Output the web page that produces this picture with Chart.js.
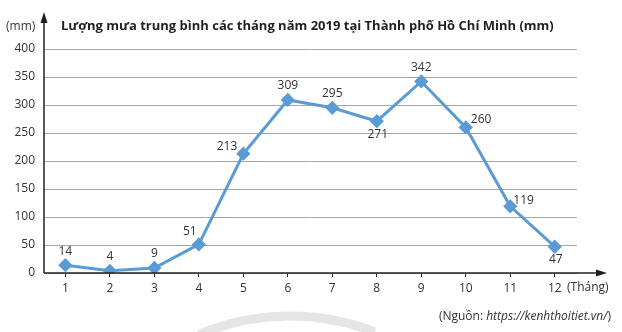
<!DOCTYPE html>
<html>
<head>
<meta charset="utf-8">
<script src="https://cdn.jsdelivr.net/npm/chart.js@4/dist/chart.umd.min.js"></script>
<style>
  html, body { margin: 0; padding: 0; background: #fff; }
  #wrap { width: 622px; height: 332px; position: relative; }
</style>
</head>
<body>
<div id="wrap"><canvas id="rainChart"></canvas></div>
<script>
const months = [1, 2, 3, 4, 5, 6, 7, 8, 9, 10, 11, 12];
const rainfall = [14, 4, 9, 51, 213, 309, 295, 271, 342, 260, 119, 47];
const yTicks = [0, 50, 100, 150, 200, 250, 300, 350, 400];

const titleText = 'Lượng mưa trung bình các tháng năm 2019 tại Thành phố Hồ Chí Minh (mm)';
const yUnit = '(mm)';
const xUnit = '(Tháng)';

const ink = '#231f20';
const textGrey = '#333333';
const lineBlue = '#5b9bd5';

// where each value label sits relative to its point
const labelSides = ['top', 'top', 'top', 'topLeft', 'left', 'top', 'top', 'bottom', 'top', 'right', 'rightTight', 'bottom'];
const sideOffsets = {
  top:        { dx: 0,  dy: -14, align: 'center' },
  bottom:     { dx: 1,  dy: 13,  align: 'center' },
  topLeft:    { dx: -9, dy: -13, align: 'center' },
  left:       { dx: -6, dy: -7,  align: 'right' },
  right:      { dx: 5,  dy: -8,  align: 'left' },
  rightTight: { dx: 3,  dy: -6,  align: 'left' }
};

Chart.defaults.font.family = "'Open Sans', 'Noto Sans', sans-serif";

const valueLabels = {
  id: 'valueLabels',
  afterDatasetsDraw(chart) {
    const { ctx } = chart;
    const meta = chart.getDatasetMeta(0);
    ctx.save();
    ctx.font = '12px "Open Sans", sans-serif';
    ctx.fillStyle = textGrey;
    ctx.textBaseline = 'middle';
    meta.data.forEach((pt, i) => {
      const o = sideOffsets[labelSides[i]];
      ctx.textAlign = o.align;
      ctx.fillText(String(rainfall[i]), pt.x + o.dx, pt.y + o.dy);
    });
    ctx.restore();
  }
};

const decor = {
  id: 'decor',
  beforeDraw(chart) {
    // faint arc in the background at the bottom
    const { ctx } = chart;
    ctx.save();
    ctx.strokeStyle = 'rgba(150,150,150,0.25)';
    ctx.lineWidth = 9;
    ctx.beginPath();
    ctx.arc(290, 316 + 234, 234, -Math.PI / 2 - 0.40, -Math.PI / 2 + 0.37);
    ctx.stroke();
    ctx.restore();
  },
  afterDraw(chart) {
    const { ctx, chartArea: a } = chart;
    ctx.save();
    ctx.strokeStyle = ink;
    ctx.fillStyle = ink;
    ctx.lineWidth = 1.5;

    // vertical axis with arrow
    ctx.beginPath();
    ctx.moveTo(a.left, a.bottom);
    ctx.lineTo(a.left, 20);
    ctx.stroke();
    ctx.beginPath();
    ctx.moveTo(a.left, 12);
    ctx.lineTo(a.left - 3.5, 23);
    ctx.lineTo(a.left + 3.5, 23);
    ctx.closePath();
    ctx.fill();

    // horizontal axis with arrow
    ctx.beginPath();
    ctx.moveTo(a.left, a.bottom);
    ctx.lineTo(598, a.bottom);
    ctx.stroke();
    ctx.beginPath();
    ctx.moveTo(607, a.bottom);
    ctx.lineTo(596, a.bottom - 3.5);
    ctx.lineTo(596, a.bottom + 3.5);
    ctx.closePath();
    ctx.fill();

    // title and unit captions
    ctx.textBaseline = 'middle';
    ctx.textAlign = 'left';
    ctx.font = 'bold 13px "Open Sans", sans-serif';
    ctx.fillText(titleText, 61, 26);

    ctx.fillStyle = textGrey;
    ctx.font = '12px "Open Sans", sans-serif';
    ctx.fillText(yUnit, 6, 27);
    ctx.fillText(xUnit, 567, 288);

    // source line, url in italics
    const pre = '(Nguồn: ', url = 'https://kenhthoitiet.vn/', post = ')';
    ctx.font = '12px "Open Sans", sans-serif';
    const wPre = ctx.measureText(pre).width;
    const wPost = ctx.measureText(post).width;
    ctx.font = 'italic 12px "Open Sans", sans-serif';
    const wUrl = ctx.measureText(url).width;
    let x = 611 - wPre - wUrl - wPost;
    ctx.font = '12px "Open Sans", sans-serif';
    ctx.fillText(pre, x, 317);
    x += wPre;
    ctx.font = 'italic 12px "Open Sans", sans-serif';
    ctx.fillText(url, x, 317);
    x += wUrl;
    ctx.font = '12px "Open Sans", sans-serif';
    ctx.fillText(post, x, 317);
    ctx.restore();
  }
};

new Chart(document.getElementById('rainChart'), {
  type: 'line',
  data: {
    datasets: [{
      data: months.map((m, i) => ({ x: m, y: rainfall[i] })),
      borderColor: lineBlue,
      backgroundColor: lineBlue,
      borderWidth: 3,
      tension: 0,
      pointStyle: 'rectRot',
      pointRadius: 5,
      pointHoverRadius: 5
    }]
  },
  options: {
    responsive: true,
    maintainAspectRatio: false,
    animation: false,
    events: [],
    layout: { padding: { top: 49, right: 45, left: 0, bottom: 0 } },
    plugins: {
      legend: { display: false },
      tooltip: { enabled: false }
    },
    scales: {
      x: {
        type: 'linear',
        min: 0.52,
        max: 12.5,
        afterBuildTicks: (scale) => { scale.ticks = months.map(v => ({ value: v })); },
        afterFit: (scale) => { scale.height = 59; },
        border: { display: false },
        grid: { drawOnChartArea: false, tickLength: 4, color: ink, lineWidth: 1 },
        ticks: { color: textGrey, font: { size: 12 }, padding: 4, maxRotation: 0 }
      },
      y: {
        min: 0,
        max: 400,
        afterBuildTicks: (scale) => { scale.ticks = yTicks.map(v => ({ value: v })); },
        afterFit: (scale) => { scale.width = 44; },
        border: { display: false },
        grid: { color: '#a6a6a6', lineWidth: 1, drawTicks: false },
        ticks: { color: textGrey, font: { size: 12 }, padding: 9 }
      }
    }
  },
  plugins: [decor, valueLabels]
});
</script>
</body>
</html>
